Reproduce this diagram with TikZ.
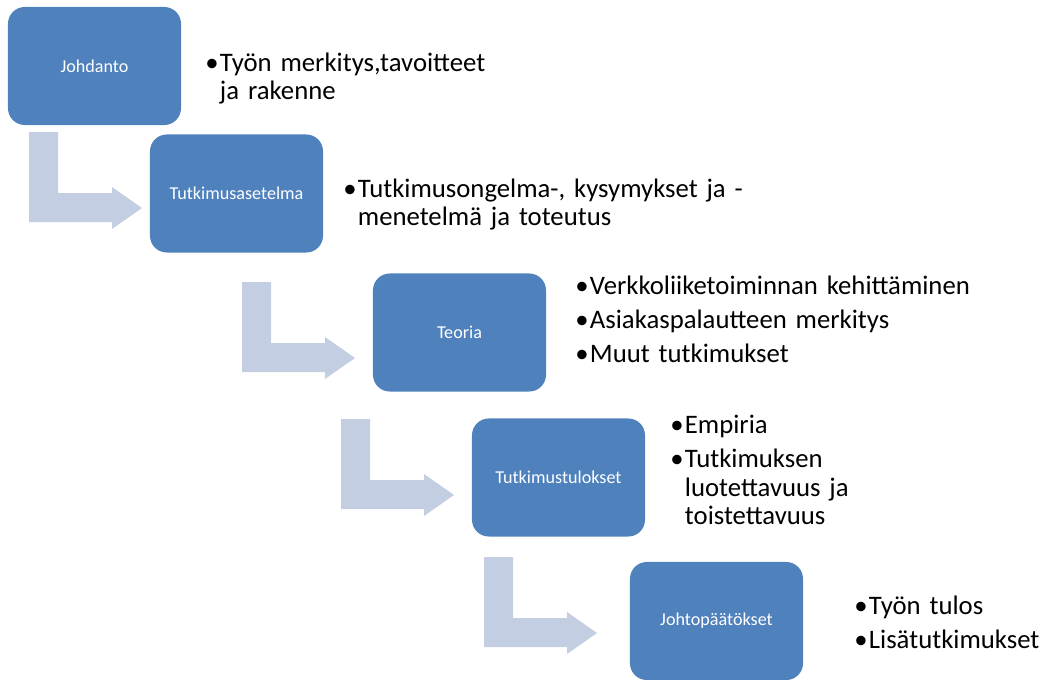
\documentclass[tikz,border=0pt]{standalone}
\usepackage{fontspec}
\setmainfont{Carlito}
\usepackage{xcolor}
\usetikzlibrary{positioning}
\definecolor{boxblue}{RGB}{79,129,189}
\definecolor{arrowgray}{RGB}{196,206,226}
\newcommand{\bul}{\makebox[0.55em][l]{•}}
\newcommand{\hang}{\hspace*{0.55em}}
\tikzset{
    %Define style for boxes
    stage/.style={
        rectangle,
        rounded corners=0.42cm,
        fill=boxblue,
        text=white,
        minimum width=4.325cm,
        minimum height=2.95cm,
        align=center,
        font=\fontsize{12.9}{15}\selectfont,
    },
    txt/.style={
        draw = none,
        anchor = base west,
        inner sep = 0pt,
        text width = 11cm,
        align = left,
        font = \fontsize{19}{20.3}\selectfont,
    },
    bend arrow/.pic={
        \fill[arrowgray] (0,0) -- (29,0) -- (29,61) -- (83,61) -- (83,55)
            -- (113,76) -- (83,97) -- (83,90) -- (0,90) -- cycle;
    },
}
\begin{document}
\begin{tikzpicture}[x=0.025cm,y=-0.025cm]
    \useasboundingbox (0,0) rectangle (1040,679);

    \node[stage] (intro) at (94.5,66) {Johdanto};
    \node[stage] (setup) at (236.5,193.5) {Tutkimusasetelma};
    \node[stage] (theory) at (459.5,332.5) {Teoria};
    \node[stage] (results) at (558.5,477.5) {Tutkimustulokset};
    \node[stage] (concl) at (716.5,621) {Johtopäätökset};

    \pic at (29,132) {bend arrow};
    \pic at (242,282) {bend arrow};
    \pic at (341,419) {bend arrow};
    \pic at (484,557) {bend arrow};

    \node[txt] (introtxt) at (205,71) {\bul Työn merkitys,tavoitteet\\ \hang ja rakenne};
    \node[txt] (setuptxt) at (343,197) {\bul Tutkimusongelma-, kysymykset ja -\\ \hang menetelmä ja toteutus};
    \node[txt] (theorytxt) at (575,294) {\bul Verkkoliiketoiminnan kehittäminen\\[4.2pt]
        \bul Asiakaspalautteen merkitys\\[4.2pt]
        \bul Muut tutkimukset};
    \node[txt] (resultstxt) at (670,433) {\bul Empiria\\[4.2pt]
        \bul Tutkimuksen\\ \hang luotettavuus ja\\ \hang toistettavuus};
    \node[txt] (concltxt) at (854,614) {\bul Työn tulos\\[4.2pt]
        \bul Lisätutkimukset};
\end{tikzpicture}
\end{document}
